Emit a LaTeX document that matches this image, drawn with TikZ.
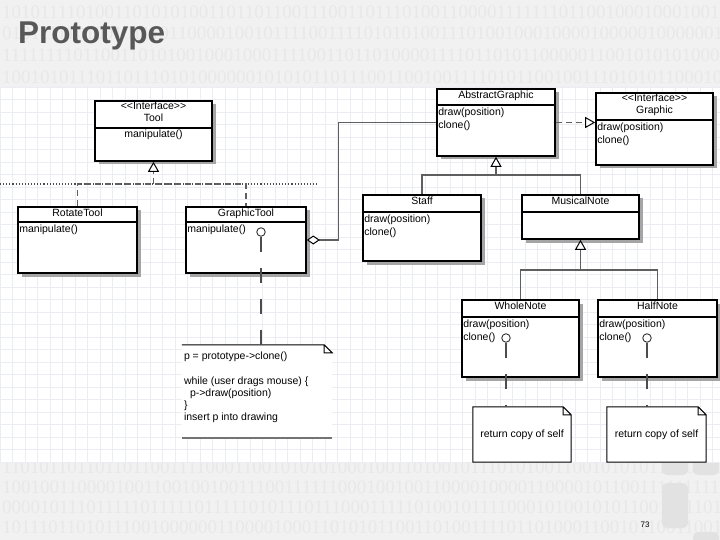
\documentclass[tikz,border=0pt]{standalone}
\usepackage{fontspec}
\setmainfont{Liberation Sans}
\newfontfamily\digitfont{Liberation Serif}
\usetikzlibrary{arrows.meta,positioning,shadows}
\definecolor{slidebg}{RGB}{241,241,241}
\definecolor{bindigit}{RGB}{232,232,232}
\definecolor{gridln}{RGB}{235,237,243}
\definecolor{titlegray}{RGB}{88,88,88}
\definecolor{linkgray}{RGB}{95,95,95}
\definecolor{shadowgray}{RGB}{165,165,165}
\definecolor{decogray}{RGB}{226,226,226}

\begin{document}
\begin{tikzpicture}[x=1pt,y=-1pt,>=Stealth,
  cls/.style={draw,line width=1.6pt,fill=white,inner sep=0pt,
              drop shadow={shadow xshift=3.5pt,shadow yshift=-3.5pt,
                           fill=shadowgray,opacity=1}},
  hdr/.style={anchor=north,inner sep=0pt,align=center,
              font=\fontsize{10.5}{12}\selectfont},
  meth/.style={anchor=north west,inner sep=0pt,align=left,
               font=\fontsize{10.5}{13}\selectfont},
  sep/.style={line width=1.1pt},
  gen/.style={draw=linkgray,line width=1.3pt},
  gentip/.style={-{Triangle[width=11pt,length=10pt,fill=white,color=black,line width=1pt]}},
  real/.style={draw=linkgray,line width=1.7pt,dash pattern=on 6pt off 4pt},
  assoc/.style={draw=linkgray,line width=1.3pt},
  port/.style={draw=black!80,line width=0.9pt,fill=white,circle,
               minimum size=8.5pt,inner sep=0pt},
  notelink/.style={draw=black!70,line width=1.4pt,dash pattern=on 15pt off 16pt},
  notebox/.style={inner sep=0pt},
  notetext/.style={inner sep=0pt,align=left,font=\fontsize{10.5}{12}\selectfont},
  bits/.style={anchor=west,inner sep=0pt,text=bindigit,
               font=\digitfont\fontsize{19}{19}\selectfont}]

  \clip (0,0) rectangle (720,540);
  \fill[slidebg] (0,0) rectangle (720,540);

  % binary backdrop
  \node[bits] (b1) at (2,12) {1010111101001101010100110110110011100110111010011000011111110110010001000100100101};
  \node[bits] (b2) at (2,33) {0101111101001011101100001001011110011110101010011101001000100001000001000000100100};
  \node[bits] (b3) at (2,55) {1111111101100110101001000100011110011011010000111101101011000001100101010100010110};
  \node[bits] (b4) at (2,77) {1001010111011011101010000001010101101110011001001111010110010011101010110001000011};
  \node[bits] (b5) at (2,467) {1101011011011011001111000110010101010001001101001011101010011001010101100011010011};
  \node[bits] (b6) at (2,487) {1001001100001001100100100111001111110001001001100001000011000010110011111111100110};
  \node[bits] (b7) at (2,507) {0000101110111110111110111110101110111000111110100101111000101001010110011111010000};
  \node[bits] (b8) at (2,527) {1011101101011100100000011000010001101010110011010011110110100011001011001100101110};

  % corner tiles
  \foreach \tx/\ty/\th in {662/440/35,662/483/45,693/440/35,693/532/40}
    \fill[decogray,rounded corners=5pt] (\tx,\ty) rectangle ++(26,\th);

  % grid panel
  \fill[white] (0,87) rectangle (720,463);
  \foreach \gx in {0,12.5,...,720}
    \draw[gridln,line width=0.5pt] (\gx,87) -- (\gx,463);
  \foreach \gy in {87,99.5,...,463}
    \draw[gridln,line width=0.5pt] (0,\gy) -- (720,\gy);

  \node[anchor=base west,inner sep=0pt,text=titlegray,
        font=\bfseries\fontsize{31.5}{32}\selectfont] (title) at (18,44) {Prototype};

  \draw[black!70,line width=1.1pt,dotted] (0,184) -- (318,184);

  % classes
  \node[cls,minimum width=117pt,minimum height=60pt] (tool) at (153.5,131) {};
  \node[hdr] (toolh) at ([yshift=-2pt]tool.north) {<{}<Interface>{}>\\Tool};
  \draw[sep] (tool.west |- 0,128) -- (tool.east |- 0,128);
  \node[meth,anchor=north] (toolm) at (tool.north |- 0,130) {manipulate()};

  \node[cls,minimum width=118pt,minimum height=67pt] (abs) at (496,122.5) {};
  \node[hdr] (absh) at ([yshift=-2.5pt]abs.north) {AbstractGraphic};
  \draw[sep] (abs.west |- 0,105) -- (abs.east |- 0,105);
  \node[meth] (absm) at ([xshift=2pt]abs.west |- 0,108) {draw(position)\\clone()};

  \node[cls,minimum width=117pt,minimum height=72pt] (graphic) at (654.5,129) {};
  \node[hdr] (graphich) at ([yshift=-2pt]graphic.north) {<{}<Interface>{}>\\Graphic};
  \draw[sep] (graphic.west |- 0,120) -- (graphic.east |- 0,120);
  \node[meth] (graphicm) at ([xshift=2pt]graphic.west |- 0,123) {draw(position)\\clone()};

  \node[cls,minimum width=119pt,minimum height=66pt] (rot) at (77.5,240) {};
  \node[hdr] (roth) at ([yshift=-2.5pt]rot.north) {RotateTool};
  \draw[sep] (rot.west |- 0,222) -- (rot.east |- 0,222);
  \node[meth] (rotm) at ([xshift=2pt]rot.west |- 0,225) {manipulate()};

  \node[cls,minimum width=120pt,minimum height=66pt] (gtool) at (246,240) {};
  \node[hdr] (gtoolh) at ([yshift=-2.5pt]gtool.north) {GraphicTool};
  \draw[sep] (gtool.west |- 0,222) -- (gtool.east |- 0,222);
  \node[meth] (gtoolm) at ([xshift=2pt]gtool.west |- 0,225) {manipulate()};

  \node[cls,minimum width=118pt,minimum height=66pt] (staff) at (422,228) {};
  \node[hdr] (staffh) at ([yshift=-2.5pt]staff.north) {Staff};
  \draw[sep] (staff.west |- 0,212) -- (staff.east |- 0,212);
  \node[meth] (staffm) at ([xshift=2pt]staff.west |- 0,215) {draw(position)\\clone()};

  \node[cls,minimum width=117pt,minimum height=44pt] (mnote) at (580.5,217) {};
  \node[hdr] (mnoteh) at ([yshift=-2.5pt]mnote.north) {MusicalNote};
  \draw[sep] (mnote.west |- 0,212) -- (mnote.east |- 0,212);

  \node[cls,minimum width=117pt,minimum height=77pt] (whole) at (520.5,338.5) {};
  \node[hdr] (wholeh) at ([yshift=-2.5pt]whole.north) {WholeNote};
  \draw[sep] (whole.west |- 0,317) -- (whole.east |- 0,317);
  \node[meth] (wholem) at ([xshift=2pt]whole.west |- 0,320) {draw(position)\\clone()};

  \node[cls,minimum width=119pt,minimum height=77pt] (half) at (657.5,338.5) {};
  \node[hdr] (halfh) at ([yshift=-2.5pt]half.north) {HalfNote};
  \draw[sep] (half.west |- 0,317) -- (half.east |- 0,317);
  \node[meth] (halfm) at ([xshift=2pt]half.west |- 0,320) {draw(position)\\clone()};

  % notes
  \node[notebox,minimum width=150pt,minimum height=93pt] (n1) at (257,391.5) {};
  \node[notebox,minimum width=98pt,minimum height=55pt] (n2) at (522,434.5) {};
  \node[notebox,minimum width=99pt,minimum height=55pt] (n3) at (656.5,434.5) {};
  \fill[white] (n1.north west) -- ([xshift=-8pt]n1.north east)
    -- ([yshift=-8pt]n1.north east) -- (n1.south east) -- (n1.south west) -- cycle;
  \draw[line width=1pt] (n1.north west) -- ([xshift=-8pt]n1.north east)
    -- ([yshift=-8pt]n1.north east)
    -- ([xshift=-8pt,yshift=-8pt]n1.north east) -- ([xshift=-8pt]n1.north east);
  \draw[black!55,line width=2.5pt] (n1.south west) -- (n1.south east);
  \foreach \n in {n2,n3}
    \filldraw[fill=white,line width=1pt] (\n.north west) -- ([xshift=-8pt]\n.north east)
      -- ([yshift=-8pt]\n.north east) -- (\n.south east) -- (\n.south west) -- cycle
      ([xshift=-8pt]\n.north east) -- ([xshift=-8pt,yshift=-8pt]\n.north east)
      -- ([yshift=-8pt]\n.north east);
  \node[notetext,anchor=north west] (n1t) at ([xshift=2pt,yshift=-7pt]n1.north west)
    {p = prototype->clone()\\[13pt]
     while (user drags mouse) \{\\
     \hspace*{6pt}p->draw(position)\\
     \}\\
     insert p into drawing};
  \node[notetext] (n2t) at (n2) {return copy of self};
  \node[notetext] (n3t) at (n3) {return copy of self};

  % Tool realized by RotateTool and GraphicTool
  \coordinate (tbus) at (153.5,184);
  \draw[real] (rot.north) |- (tbus) -| (gtool.north);
  \draw[real,gentip] (tbus) -- (tool.south);

  % GraphicTool holds a prototype
  \draw[assoc,{Diamond[width=9pt,length=13pt,fill=white,color=black,line width=1pt]}-]
    (gtool.east) -- ++(32,0) |- (abs.west);

  % AbstractGraphic realizes Graphic
  \draw[real,gentip] (abs.east) -- (abs.east -| graphic.west);

  % subclasses of AbstractGraphic
  \coordinate (abus) at (496,175);
  \draw[gen] (staff.north) |- (abus) -| (mnote.north);
  \draw[gen,gentip] (abus) -- (abs.south);

  % subclasses of MusicalNote
  \coordinate (mbus) at (580.5,270);
  \draw[gen] (whole.north) |- (mbus) -| (half.north);
  \draw[gen,gentip] (mbus) -- (mnote.south);

  % note anchors
  \node[port] (gport) at (261,232) {};
  \node[port] (wport) at (506,338) {};
  \node[port] (hport) at (647,338) {};
  \draw[notelink] (gport.south) -- (gport.south |- n1.north);
  \draw[notelink] (wport.south) -- (wport.south |- n2.north);
  \draw[notelink] (hport.south) -- (hport.south |- n3.north);

  \node[inner sep=0pt,font=\fontsize{8}{8}\selectfont] (pnum) at (645,525) {73};
\end{tikzpicture}
\end{document}
